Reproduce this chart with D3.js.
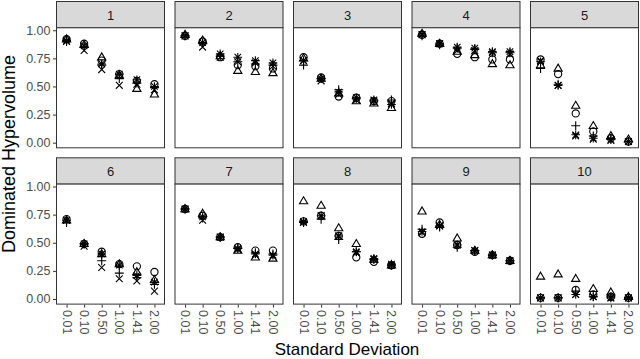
<!DOCTYPE html>
<html><head><meta charset="utf-8">
<script src="https://cdn.jsdelivr.net/npm/d3@7"></script>
<style>body{margin:0;background:#fff;} text{font-family:"Liberation Sans",Arial,sans-serif;}</style>
</head><body><svg id="c" width="640" height="359"></svg>
<script>
const sds = ["0.01","0.10","0.50","1.00","1.41","2.00"];
const panels = ["1","2","3","4","5","6","7","8","9","10"];
const yTicks = [0, 0.25, 0.5, 0.75, 1.0];
const seriesShapes = ["circle","triangle","plus","cross","asterisk"];
// values[panel][sd] per series
const circleVals = [
 [0.92,0.88,0.73,0.61,0.55,0.52],
 [0.95,0.90,0.76,0.69,0.68,0.66],
 [0.76,0.58,0.41,0.40,0.37,0.37],
 [0.96,0.88,0.79,0.76,0.74,0.74],
 [0.74,0.61,0.26,0.10,0.04,0.01],
 [0.71,0.49,0.42,0.31,0.29,0.24],
 [0.80,0.74,0.55,0.46,0.43,0.43],
 [0.69,0.74,0.56,0.37,0.33,0.30],
 [0.58,0.68,0.48,0.42,0.39,0.34],
 [0.01,0.01,0.08,0.04,0.02,0.01]
];
const triangleVals = [
 [0.92,0.87,0.76,0.60,0.48,0.43],
 [0.96,0.91,0.77,0.64,0.63,0.62],
 [0.75,0.57,0.44,0.37,0.35,0.31],
 [0.97,0.88,0.81,0.78,0.70,0.69],
 [0.69,0.66,0.33,0.15,0.06,0.03],
 [0.70,0.49,0.40,0.31,0.24,0.17],
 [0.80,0.76,0.55,0.43,0.37,0.36],
 [0.87,0.83,0.63,0.49,0.35,0.30],
 [0.78,0.66,0.54,0.43,0.39,0.34],
 [0.20,0.22,0.18,0.09,0.06,0.02]
];
const plusVals = [
 [0.90,0.85,0.69,0.57,0.53,0.49],
 [0.95,0.88,0.77,0.72,0.70,0.69],
 [0.69,0.57,0.47,0.39,0.37,0.38],
 [0.95,0.87,0.84,0.83,0.80,0.80],
 [0.66,0.52,0.15,0.06,0.03,0.01],
 [0.68,0.49,0.34,0.23,0.19,0.13],
 [0.80,0.72,0.55,0.45,0.41,0.40],
 [0.68,0.71,0.53,0.42,0.35,0.30],
 [0.62,0.64,0.46,0.43,0.39,0.34],
 [0.01,0.01,0.07,0.02,0.02,0.01]
];
const crossVals = [
 [0.90,0.82,0.65,0.51,0.52,0.47],
 [0.95,0.85,0.76,0.72,0.71,0.68],
 [0.73,0.55,0.43,0.38,0.37,0.35],
 [0.96,0.88,0.82,0.82,0.80,0.79],
 [0.73,0.51,0.06,0.03,0.02,0.01],
 [0.70,0.47,0.28,0.18,0.16,0.07],
 [0.80,0.70,0.55,0.44,0.39,0.38],
 [0.68,0.74,0.56,0.41,0.35,0.30],
 [0.59,0.65,0.48,0.43,0.39,0.34],
 [0.01,0.01,0.04,0.02,0.01,0.01]
];
const asteriskVals = [
 [0.91,0.86,0.70,0.61,0.56,0.50],
 [0.95,0.89,0.79,0.76,0.73,0.71],
 [0.73,0.57,0.45,0.40,0.38,0.34],
 [0.96,0.88,0.85,0.84,0.81,0.81],
 [0.72,0.51,0.07,0.04,0.03,0.01],
 [0.70,0.49,0.40,0.30,0.21,0.15],
 [0.80,0.73,0.55,0.45,0.40,0.39],
 [0.69,0.74,0.56,0.42,0.36,0.31],
 [0.60,0.65,0.48,0.43,0.39,0.34],
 [0.01,0.01,0.04,0.02,0.01,0.01]
];
const seriesVals = [circleVals, triangleVals, plusVals, crossVals, asteriskVals];

const svg = d3.select("#c");
const panelW = 109, panelH = 121, stripH = 26.3;
const colX = [56, 174.5, 293, 411.5, 530];
const rowY = [1, 157.3];
const x = d3.scalePoint().domain(sds).range([0, panelW]).padding(0.6);
const y = d3.scaleLinear().domain([-0.05, 1.026]).range([panelH, 0]);

function shapePath(s, r) {
  const p = d3.path();
  if (s === "circle") { p.moveTo(r,0); p.arc(0,0,r,0,2*Math.PI); }
  else if (s === "triangle") { const h=r*1.2; p.moveTo(0,-h); p.lineTo(h*0.95,h*0.62); p.lineTo(-h*0.95,h*0.62); p.closePath(); }
  else if (s === "plus") { const a=r*1.25; p.moveTo(-a,0); p.lineTo(a,0); p.moveTo(0,-a); p.lineTo(0,a); }
  else if (s === "cross") { const a=r*0.95; p.moveTo(-a,-a); p.lineTo(a,a); p.moveTo(-a,a); p.lineTo(a,-a); }
  else if (s === "asterisk") { const a=r*1.2, b=r*0.9; p.moveTo(-a,0); p.lineTo(a,0); p.moveTo(0,-a); p.lineTo(0,a); p.moveTo(-b,-b); p.lineTo(b,b); p.moveTo(-b,b); p.lineTo(b,-b); }
  return p.toString();
}

panels.forEach((lab, pi) => {
  const col = pi % 5, row = Math.floor(pi / 5);
  const gx = colX[col], gy = rowY[row];
  const g = svg.append("g").attr("transform", `translate(${gx},${gy})`);
  g.append("rect").attr("x",0.5).attr("y",0.5).attr("width",panelW-1).attr("height",stripH)
    .attr("fill","#D9D9D9").attr("stroke","#333333").attr("stroke-width",1);
  g.append("text").attr("x",panelW/2).attr("y",stripH/2+1).attr("dy","0.35em")
    .attr("text-anchor","middle").attr("font-size",13).attr("fill","#1A1A1A").text(lab);
  const pg = g.append("g").attr("transform",`translate(0,${stripH})`);
  pg.append("rect").attr("x",0.5).attr("y",0.5).attr("width",panelW-1).attr("height",panelH-1)
    .attr("fill","#fff").attr("stroke","#333333").attr("stroke-width",1);
  if (row === 1) {
    const xa = pg.append("g").attr("transform",`translate(0,${panelH})`)
      .call(d3.axisBottom(x).tickSize(3).tickSizeOuter(0));
    xa.select(".domain").remove();
    xa.selectAll(".tick line").attr("stroke","#333333");
    xa.selectAll(".tick text").attr("transform","rotate(90)").attr("text-anchor","start")
      .attr("x",5.5).attr("y",0).attr("dy","0.36em").attr("font-size",12.5).attr("fill","#4D4D4D")
      .attr("font-family","Liberation Sans, Arial, sans-serif");
  }
  if (col === 0) {
    const ya = pg.append("g").call(d3.axisLeft(y).tickValues(yTicks).tickFormat(d3.format(".2f")).tickSize(3));
    ya.select(".domain").remove();
    ya.selectAll(".tick line").attr("stroke","#333333");
    ya.selectAll(".tick text").attr("font-size",12.5).attr("fill","#4D4D4D").attr("x",-5.5)
      .attr("font-family","Liberation Sans, Arial, sans-serif");
  }
  seriesShapes.forEach((s, si) => {
    pg.append("g").selectAll("path").data(sds).join("path")
      .attr("transform", (d,i) => `translate(${x(d)},${y(seriesVals[si][pi][i])})`)
      .attr("d", shapePath(s, 3.6))
      .attr("fill","none").attr("stroke","#000").attr("stroke-width",1.1);
  });
});

svg.append("text").attr("x",347).attr("y",355).attr("text-anchor","middle")
  .attr("font-size",17).attr("fill","#000").text("Standard Deviation");
svg.append("text").attr("transform","translate(15,154) rotate(-90)").attr("text-anchor","middle")
  .attr("font-size",18).attr("fill","#000").text("Dominated Hypervolume");
</script></body></html>
